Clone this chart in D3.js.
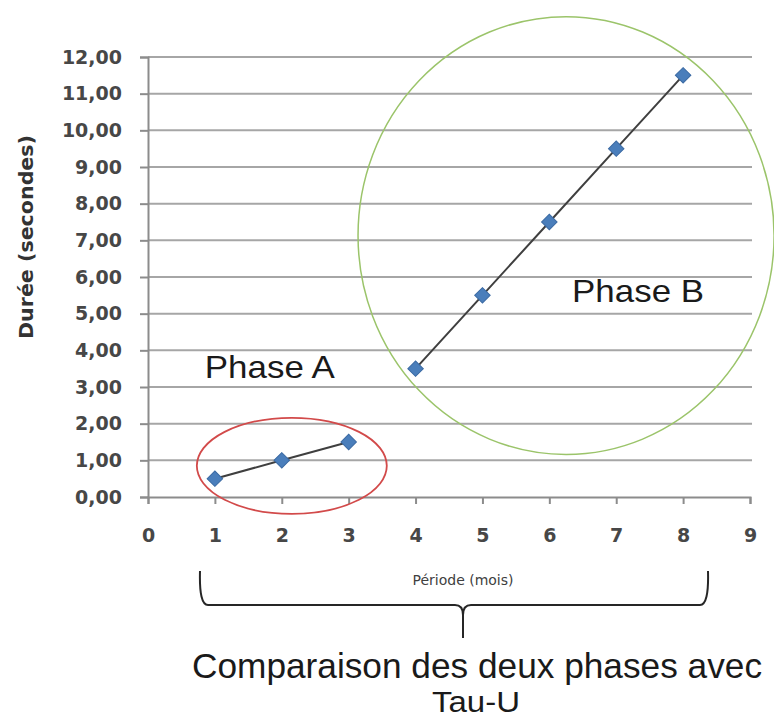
<!DOCTYPE html>
<html>
<head>
<meta charset="utf-8">
<script src="https://cdn.jsdelivr.net/npm/d3@7"></script>
<style>
  html, body { margin: 0; padding: 0; background: #fff; }
</style>
</head>
<body>
<div id="chart"></div>
<script>
// Data
const monthsA = [1, 2, 3];
const dureeA = [0.5, 1.0, 1.5];
const monthsB = [4, 5, 6, 7, 8];
const dureeB = [3.5, 5.5, 7.5, 9.5, 11.5];
const xTicks = [0, 1, 2, 3, 4, 5, 6, 7, 8, 9];
const yTicks = [0, 1, 2, 3, 4, 5, 6, 7, 8, 9, 10, 11, 12];

const width = 774;
const height = 722;

const svg = d3.select("#chart")
  .append("svg")
  .attr("width", width)
  .attr("height", height)
  .attr("viewBox", `0 0 ${width} ${height}`);

// Scales
const x = d3.scaleLinear().domain([0, 9]).range([148, 750]);
const y = d3.scaleLinear().domain([0, 12]).range([497, 57]);

const frLocale = d3.formatLocale({ decimal: ",", thousands: " ", grouping: [3], currency: ["", " €"] });
const fmt = frLocale.format(".2f");

// Horizontal gridlines
svg.append("g")
  .selectAll("line")
  .data(yTicks.filter(d => d > 0))
  .join("line")
  .attr("x1", x(0))
  .attr("x2", x(9) + 2)
  .attr("y1", d => y(d))
  .attr("y2", d => y(d))
  .attr("stroke", "#a6a6a6")
  .attr("stroke-width", 2);

// Y axis
const yAxis = svg.append("g")
  .attr("transform", `translate(${x(0)},0)`)
  .call(d3.axisLeft(y).tickValues(yTicks).tickFormat(fmt).tickSize(8).tickPadding(18));
yAxis.select(".domain").attr("stroke", "#8c8c8c").attr("stroke-width", 2);
yAxis.selectAll(".tick line").attr("stroke", "#8c8c8c").attr("stroke-width", 2);
yAxis.selectAll("text")
  .attr("font-family", "DejaVu Sans, Verdana, sans-serif")
  .attr("font-size", 19)
  .attr("font-weight", "bold")
  .attr("fill", "#474747");

// X axis
const xAxis = svg.append("g")
  .attr("transform", `translate(0,${y(0)})`)
  .call(d3.axisBottom(x).tickValues(xTicks).tickFormat(d3.format("d")).tickSize(7).tickPadding(25));
xAxis.select(".domain").attr("stroke", "#8c8c8c").attr("stroke-width", 2);
xAxis.selectAll(".tick line").attr("stroke", "#8c8c8c").attr("stroke-width", 2);
xAxis.selectAll("text")
  .attr("font-family", "DejaVu Sans, Verdana, sans-serif")
  .attr("font-size", 19)
  .attr("font-weight", "bold")
  .attr("fill", "#474747");

// Axis titles
svg.append("text")
  .attr("transform", `translate(33,237) rotate(-90)`)
  .attr("text-anchor", "middle")
  .attr("font-family", "DejaVu Sans, Verdana, sans-serif")
  .attr("font-size", 19)
  .attr("font-weight", "bold")
  .attr("fill", "#333333")
  .attr("textLength", 204)
  .attr("lengthAdjust", "spacingAndGlyphs")
  .text("Durée (secondes)");

svg.append("text")
  .attr("x", 463)
  .attr("y", 585)
  .attr("text-anchor", "middle")
  .attr("font-family", "DejaVu Sans, Verdana, sans-serif")
  .attr("font-size", 14)
  .attr("fill", "#404040")
  .text("Période (mois)");

// Series lines
const line = d3.line().x(d => x(d[0])).y(d => y(d[1]));
const ptsA = monthsA.map((m, i) => [m, dureeA[i]]);
const ptsB = monthsB.map((m, i) => [m, dureeB[i]]);

[ptsA, ptsB].forEach(pts => {
  svg.append("path")
    .datum(pts)
    .attr("d", line)
    .attr("fill", "none")
    .attr("stroke", "#3f3f3f")
    .attr("stroke-width", 2);
});

// Diamond markers
const diamond = d3.symbol().type(d3.symbolSquare).size(120);
svg.append("g")
  .selectAll("path")
  .data(ptsA.concat(ptsB))
  .join("path")
  .attr("d", diamond)
  .attr("transform", d => `translate(${x(d[0])},${y(d[1])}) rotate(45)`)
  .attr("fill", "#4a7ebb")
  .attr("stroke", "#3b6aa3")
  .attr("stroke-width", 1);

// Phase annotations
svg.append("ellipse")
  .attr("cx", x(2.15))
  .attr("cy", y(0.85))
  .attr("rx", x(1.42) - x(0))
  .attr("ry", y(0) - y(1.31))
  .attr("fill", "none")
  .attr("stroke", "#d24a4a")
  .attr("stroke-width", 1.8);

svg.append("ellipse")
  .attr("cx", x(6.25))
  .attr("cy", y(7.13))
  .attr("rx", x(3.11) - x(0))
  .attr("ry", y(0) - y(5.97))
  .attr("fill", "none")
  .attr("stroke", "#9bc46a")
  .attr("stroke-width", 1.5);

svg.append("text")
  .attr("x", x(0.85))
  .attr("y", 378)
  .attr("font-family", "Liberation Sans, Arial, sans-serif")
  .attr("font-size", 32)
  .attr("fill", "#1a1a1a")
  .attr("textLength", 130)
  .attr("lengthAdjust", "spacingAndGlyphs")
  .text("Phase A");

svg.append("text")
  .attr("x", x(6.34))
  .attr("y", 302)
  .attr("font-family", "Liberation Sans, Arial, sans-serif")
  .attr("font-size", 32)
  .attr("fill", "#1a1a1a")
  .attr("textLength", 132)
  .attr("lengthAdjust", "spacingAndGlyphs")
  .text("Phase B");

// Brace under the x axis
const bx1 = 200, bx2 = 708, bmid = 463, btop = 571, bbar = 605, btip = 638;
svg.append("path")
  .attr("d", `M ${bx1} ${btop} Q ${bx1 - 1} ${bbar} ${bx1 + 8} ${bbar} L ${bmid - 8} ${bbar} Q ${bmid} ${bbar} ${bmid} ${bbar + 10} L ${bmid} ${btip}
              M ${bmid} ${bbar + 10} Q ${bmid} ${bbar} ${bmid + 8} ${bbar} L ${bx2 - 8} ${bbar} Q ${bx2 + 1} ${bbar} ${bx2} ${btop}`)
  .attr("fill", "none")
  .attr("stroke", "#262626")
  .attr("stroke-width", 2);

svg.append("text")
  .attr("x", 192)
  .attr("y", 678)
  .attr("font-family", "Liberation Sans, Arial, sans-serif")
  .attr("font-size", 35)
  .attr("fill", "#1a1a1a")
  .attr("textLength", 570)
  .attr("lengthAdjust", "spacingAndGlyphs")
  .text("Comparaison des deux phases avec");

svg.append("text")
  .attr("x", 432)
  .attr("y", 712)
  .attr("font-family", "Liberation Sans, Arial, sans-serif")
  .attr("font-size", 29)
  .attr("fill", "#1a1a1a")
  .attr("textLength", 88)
  .attr("lengthAdjust", "spacingAndGlyphs")
  .text("Tau-U");
</script>
</body>
</html>
